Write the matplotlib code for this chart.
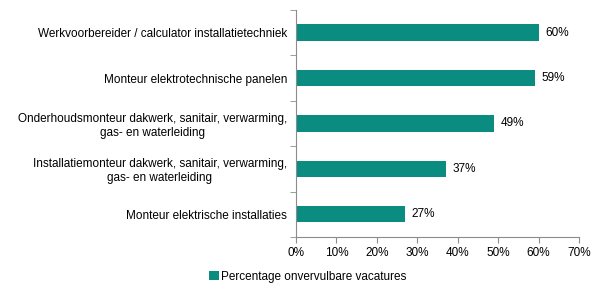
import matplotlib
matplotlib.use("Agg")
import matplotlib.pyplot as plt
from matplotlib.patches import Patch

categories = [
    "Werkvoorbereider / calculator installatietechniek",
    "Monteur elektrotechnische panelen",
    "Onderhoudsmonteur dakwerk, sanitair, verwarming,\ngas- en waterleiding",
    "Installatiemonteur dakwerk, sanitair, verwarming,\ngas- en waterleiding",
    "Monteur elektrische installaties",
]
values = [60, 59, 49, 37, 27]
xticks = [0, 10, 20, 30, 40, 50, 60, 70]
series_name = "Percentage onvervulbare vacatures"

color = "#0A8C80"
axis_color = "#8C8C8C"
plt.rcParams["font.family"] = ["Liberation Sans", "DejaVu Sans"]
fs = 8.5

fig = plt.figure(figsize=(6, 3), dpi=100)
ax = fig.add_axes([0.4933, 0.21, 0.4717, 0.757])

n = len(categories)
ypos = list(range(n))[::-1]
ax.barh(ypos, values, height=0.36, color=color)
for y, v in zip(ypos, values):
    ax.text(v + 1.6, y, f"{v}%", va="center", ha="left", fontsize=fs, color="black")

ax.set_xlim(0, 70)
ax.set_ylim(-0.5, n - 0.5)
ax.set_xticks(xticks)
ax.set_xticklabels([f"{t}%" for t in xticks], fontsize=fs)

# category labels at bar centres, tick marks at category boundaries
ax.set_yticks(ypos)
ax.set_yticklabels(categories, fontsize=fs, ha="right", multialignment="center")
ax.tick_params(axis="y", length=0, pad=6.5)
ax.set_yticks([i - 0.5 for i in range(n + 1)], minor=True)
ax.tick_params(axis="y", which="minor", length=4, direction="out", color=axis_color)
ax.tick_params(axis="x", length=4, direction="out", color=axis_color, pad=3)

for s in ["top", "right"]:
    ax.spines[s].set_visible(False)
for s in ["left", "bottom"]:
    ax.spines[s].set_color(axis_color)
    ax.spines[s].set_linewidth(0.8)

fig.legend(handles=[Patch(facecolor=color, label=series_name)],
           loc="center", bbox_to_anchor=(0.513, 0.077), frameon=False,
           fontsize=fs, handlelength=0.8, handleheight=0.8, handletextpad=0.2)

fig.savefig("out.png", dpi=100, facecolor="white")
